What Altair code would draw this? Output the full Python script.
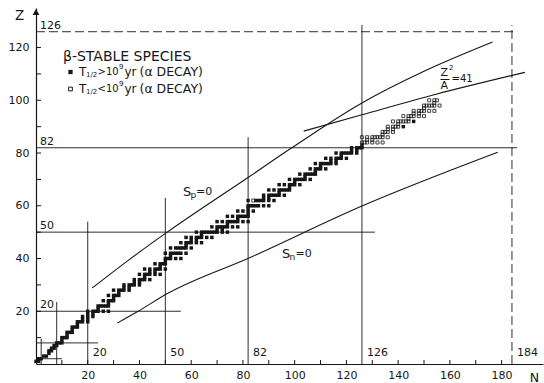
import altair as alt
import pandas as pd

FONT = "DejaVu Sans"
INK = "#161616"

# ---------------- data ----------------
# beta-stable species, T1/2 > 1e9 yr : (Z, neutron numbers N)
long_lived = [
    (1, [0, 1]), (2, [1, 2]), (3, [3, 4]), (4, [5]), (5, [5, 6]), (6, [6, 7]),
    (7, [7, 8]), (8, [8, 9, 10]), (9, [10]), (10, [10, 11, 12]), (11, [12]),
    (12, [12, 13, 14]), (13, [14]), (14, [14, 15, 16]), (15, [16]),
    (16, [16, 17, 18, 20]), (17, [18, 20]), (18, [18, 20, 22]), (19, [20, 22]),
    (20, [20, 22, 23, 24, 26, 28]), (21, [24]), (22, [24, 25, 26, 27, 28]),
    (23, [28]), (24, [26, 28, 29, 30]), (25, [30]), (26, [28, 30, 31, 32]),
    (27, [32]), (28, [30, 32, 33, 34, 36]), (29, [34, 36]),
    (30, [34, 36, 37, 38, 40]), (31, [38, 40]), (32, [38, 40, 41, 42, 44]),
    (33, [42]), (34, [40, 42, 43, 44, 46, 48]), (35, [44, 46]),
    (36, [42, 44, 46, 47, 48, 50]), (37, [48]), (38, [46, 48, 49, 50]),
    (39, [50]), (40, [50, 51, 52, 54, 56]), (41, [52]),
    (42, [50, 52, 53, 54, 55, 56, 58]), (44, [52, 54, 55, 56, 57, 58, 60]),
    (45, [58]), (46, [56, 58, 59, 60, 62, 64]), (47, [60, 62]),
    (48, [58, 60, 62, 63, 64, 66, 68]), (49, [64]),
    (50, [62, 64, 65, 66, 67, 68, 69, 70, 72, 74]), (51, [70, 72]),
    (52, [68, 70, 71, 72, 73, 74, 76, 78]), (53, [74]),
    (54, [70, 72, 74, 75, 76, 77, 78, 80, 82]), (55, [78]),
    (56, [74, 76, 78, 79, 80, 81, 82]), (57, [82]), (58, [78, 80, 82, 84]),
    (59, [82]), (60, [82, 83, 84, 85, 86, 88, 90]),
    (62, [82, 85, 86, 87, 88, 90, 92]), (63, [88, 90]),
    (64, [88, 90, 91, 92, 93, 94, 96]), (65, [94]),
    (66, [90, 92, 94, 95, 96, 97, 98]), (67, [98]),
    (68, [94, 96, 98, 99, 100, 102]), (69, [100]),
    (70, [98, 100, 101, 102, 103, 104, 106]), (71, [104]),
    (72, [102, 104, 105, 106, 107, 108]), (73, [108]),
    (74, [106, 108, 109, 110, 112]), (75, [110]),
    (76, [108, 110, 111, 112, 113, 114, 116]), (77, [114, 116]),
    (78, [112, 114, 116, 117, 118, 120]), (79, [118]),
    (80, [116, 118, 119, 120, 121, 122, 124]), (81, [122, 124]),
    (82, [122, 124, 125, 126]), (83, [126]), (90, [142]), (92, [146]),
]
# beta-stable species, T1/2 < 1e9 yr (alpha decay)
short_lived = [
    (62, [84]), (84, [126, 127, 128, 130, 132, 134]), (85, [128, 130]),
    (86, [126, 128, 130, 131, 132, 133, 134, 136]), (87, [134]),
    (88, [134, 135, 136, 138]), (89, [136, 138]), (90, [136, 138, 139, 140]),
    (91, [140]), (92, [138, 140, 141, 142, 143, 144]), (93, [144]),
    (94, [142, 144, 145, 146, 148, 150]), (95, [146, 148]),
    (96, [146, 148, 149, 150, 152, 154]), (97, [150]),
    (98, [150, 151, 152, 153, 154, 156]), (99, [154]), (100, [152, 154, 155]),
]

# magic-number guide lines
h_magic_Z = [2, 8, 20, 50, 82]
h_magic_Nend = [10, 24, 56, 131, 186]
h_magic_label = ["", "", "20", "50", "82"]
v_magic_N = [2, 8, 20, 50, 82, 126]
v_magic_Ztop = [9.6, 23.5, 54, 63, 86, 128.6]
v_magic_label = ["", "", "20", "50", "82", "126"]
dash_Z, dash_Z_Nend = 126, 186
dash_N, dash_N_Ztop = 184, 128.5

# curves
sp_N = [21.7, 35.8, 50.6, 82.4, 98.3, 126, 150, 176.5]
sp_Z = [28.8, 39.4, 49.9, 71.0, 81.6, 99.0, 111.0, 122.1]
sn_N = [31.4, 38.8, 50.8, 82.8, 126, 178.5]
sn_Z = [15.5, 19.6, 26.7, 40.4, 59.9, 80.3]
fis_N = [103.5, 126, 155, 189]
fis_Z = [88.3, 94.5, 102.4, 110.6]

x_ticks = list(range(10, 190, 10))
y_ticks = list(range(10, 130, 10))
x_labels = list(range(20, 200, 20))
y_labels = list(range(20, 140, 20))

# ---------------- tables ----------------
sq_long = pd.DataFrame([{"N": n, "Z": z} for z, ns in long_lived for n in ns])
sq_short = pd.DataFrame([{"N": n, "Z": z} for z, ns in short_lived for n in ns])

h_lines = pd.DataFrame({"N": [0] * len(h_magic_Z), "N2": h_magic_Nend,
                        "Z": h_magic_Z, "Z2": h_magic_Z, "label": h_magic_label})
v_lines = pd.DataFrame({"N": v_magic_N, "N2": v_magic_N,
                        "Z": [0] * len(v_magic_N), "Z2": v_magic_Ztop, "label": v_magic_label})
d_lines = pd.DataFrame({"N": [0, dash_N], "N2": [dash_Z_Nend, dash_N],
                        "Z": [dash_Z, 0], "Z2": [dash_Z, dash_N_Ztop]})
h_lab = pd.concat([h_lines[h_lines.label != ""][["N", "Z", "label"]],
                   pd.DataFrame({"N": [0], "Z": [dash_Z], "label": [str(dash_Z)]})])
v_lab = pd.concat([v_lines[v_lines.label != ""][["N", "Z", "label"]],
                   pd.DataFrame({"N": [dash_N], "Z": [0], "label": [str(dash_N)]})])

curves = pd.concat([
    pd.DataFrame({"c": "sp", "N": sp_N, "Z": sp_Z}),
    pd.DataFrame({"c": "sn", "N": sn_N, "Z": sn_Z}),
    pd.DataFrame({"c": "fis", "N": fis_N, "Z": fis_Z}),
])
curves["i"] = range(len(curves))

one = pd.DataFrame({"a": [0]})

# ---------------- layout ----------------
W, H = 507, 356
PL, PT = 36, 8
XS = alt.Scale(domain=[0, 196], nice=False, zero=False)
YS = alt.Scale(domain=[0, 135], nice=False, zero=False)

xaxis = alt.Axis(values=x_labels, ticks=False, grid=False, domainColor=INK,
                 domainWidth=1.2, labelFont=FONT, labelFontSize=11, labelColor=INK,
                 labelPadding=5, labelOverlap=False, title="N", titleFont=FONT,
                 titleFontSize=12.5, titleFontWeight="normal", titleColor=INK,
                 titleAngle=0, titleX=498, titleY=13, titleAlign="center",
                 titleBaseline="middle")
yaxis = alt.Axis(values=y_labels, ticks=False, grid=False, domainColor=INK,
                 domainWidth=1.2, labelFont=FONT, labelFontSize=11, labelColor=INK,
                 labelPadding=7, labelOverlap=False, title="Z", titleFont=FONT,
                 titleFontSize=13.5, titleFontWeight="normal", titleColor=INK,
                 titleAngle=0, titleX=-17, titleY=7, titleAlign="center",
                 titleBaseline="middle")


def X(f="N"):
    return alt.X(f"{f}:Q", scale=XS, axis=xaxis)


def Y(f="Z"):
    return alt.Y(f"{f}:Q", scale=YS, axis=yaxis)


def ptext(txt, px, py, size=12, font=FONT):
    return alt.Chart(one).mark_text(text=txt, font=font, fontSize=size, align="left",
                                    baseline="middle", color=INK).encode(
        x=alt.value(px - PL), y=alt.value(py - PT))


layers = []
# magic lines
layers.append(alt.Chart(h_lines).mark_rule(color=INK, strokeWidth=0.9).encode(
    x=X(), x2="N2:Q", y=Y(), y2="Z2:Q"))
layers.append(alt.Chart(v_lines).mark_rule(color=INK, strokeWidth=0.9).encode(
    x=X(), x2="N2:Q", y=Y(), y2="Z2:Q"))
layers.append(alt.Chart(d_lines).mark_rule(color=INK, strokeWidth=0.9, strokeDash=[9, 4]).encode(
    x=X(), x2="N2:Q", y=Y(), y2="Z2:Q"))
# magic labels
layers.append(alt.Chart(h_lab).mark_text(font=FONT, fontSize=11, align="left", baseline="alphabetic",
                                         dx=4, dy=-3, color=INK).encode(x=X(), y=Y(), text="label:N"))
layers.append(alt.Chart(v_lab).mark_text(font=FONT, fontSize=11, align="left", baseline="alphabetic",
                                         dx=5, dy=-8, color=INK).encode(x=X(), y=Y(), text="label:N"))
# curves
layers.append(alt.Chart(curves).mark_line(color=INK, strokeWidth=1.1, interpolate="monotone").encode(
    x=X(), y=Y(), detail="c:N", order="i:Q"))
# ticks
layers.append(alt.Chart(pd.DataFrame({"N": x_ticks})).mark_rule(color=INK, strokeWidth=1).encode(
    x=X(), y=alt.value(H), y2=alt.value(H - 4)))
layers.append(alt.Chart(pd.DataFrame({"Z": y_ticks})).mark_rule(color=INK, strokeWidth=1).encode(
    y=Y(), x=alt.value(0), x2=alt.value(5)))
# axis arrow
layers.append(alt.Chart(one).mark_point(shape="triangle-up", filled=True, size=45, color=INK,
                                        opacity=1).encode(x=alt.value(0), y=alt.value(4)))
# nuclides
layers.append(alt.Chart(sq_long).mark_square(size=12, color=INK, opacity=1).encode(x=X(), y=Y()))
layers.append(alt.Chart(sq_short).mark_square(size=9, filled=False, color=INK, strokeWidth=0.8,
                                              opacity=1).encode(x=X(), y=Y()))
# legend
layers.append(ptext("β-STABLE SPECIES", 63, 57, 14))
layers.append(alt.Chart(one).mark_square(size=18, color=INK, opacity=1).encode(
    x=alt.value(70.5 - PL), y=alt.value(72 - PT)))
layers.append(alt.Chart(one).mark_square(size=14, filled=False, color=INK, strokeWidth=1,
                                         opacity=1).encode(x=alt.value(70.5 - PL), y=alt.value(89 - PT)))
for yy, sign in [(72, ">"), (89, "<")]:
    layers.append(ptext("T", 79, yy, 12))
    layers.append(ptext("1/2", 86, yy + 3, 7))
    layers.append(ptext(sign, 97.5, yy, 10))
    layers.append(ptext("10", 106, yy, 10))
    layers.append(ptext("9", 119, yy - 5.5, 7))
    layers.append(ptext("yr", 124.5, yy, 12))
    layers.append(ptext("(α DECAY)", 139.5, yy, 12.5))
# curve labels
layers.append(ptext("S", 183, 191.5, 13))
layers.append(ptext("p", 190.5, 195, 9))
layers.append(ptext("=0", 196, 191.5, 11))
layers.append(ptext("S", 282, 254, 13))
layers.append(ptext("n", 289.5, 257, 9))
layers.append(ptext("=0", 295.5, 254, 11))
layers.append(ptext("Z", 440.5, 72.5, 11))
layers.append(ptext("2", 449, 67.5, 7))
layers.append(alt.Chart(one).mark_rule(color=INK, strokeWidth=1).encode(
    x=alt.value(440.5 - PL), x2=alt.value(449.5 - PL), y=alt.value(79.5 - PT)))
layers.append(ptext("A", 440.5, 86, 11))
layers.append(ptext("=41", 451.5, 78.5, 10))

chart = alt.layer(*layers).properties(
    width=W, height=H,
    padding={"left": PL, "top": PT, "right": 1, "bottom": 19},
    autosize=alt.AutoSizeParams(type="none"),
    background="white",
).configure_view(stroke=None)

chart.save("out.html", embed_options={"renderer": "svg", "actions": False})
